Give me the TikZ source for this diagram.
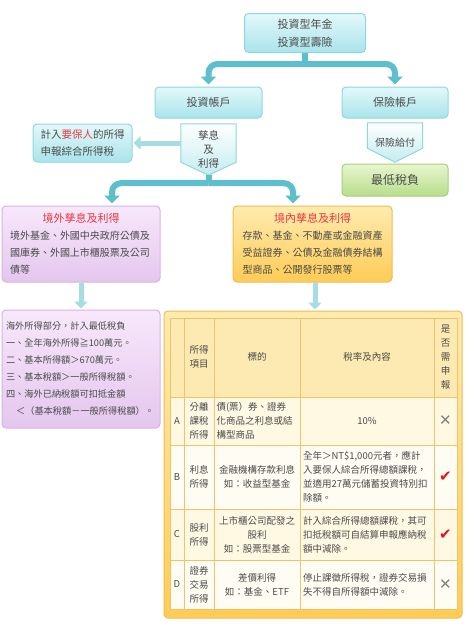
\documentclass[tikz,border=0pt]{standalone}
\usepackage{fontspec}
\setmainfont{Noto Sans CJK TC}
\newfontfamily\symfont{DejaVu Sans}
\usetikzlibrary{arrows.meta,calc,backgrounds}

\definecolor{cyantop}{HTML}{E3F8FA}
\definecolor{cyanbot}{HTML}{A9E4EA}
\definecolor{cyanedge}{HTML}{8ED7DF}
\definecolor{barcyan}{HTML}{5DBFCD}
\definecolor{purptop}{HTML}{F8E8FB}
\definecolor{purpbot}{HTML}{E4C6EE}
\definecolor{purpedge}{HTML}{D7B3E3}
\definecolor{orantop}{HTML}{FFEBB0}
\definecolor{oranbot}{HTML}{FFCC55}
\definecolor{oranedge}{HTML}{F2BC4E}
\definecolor{greentop}{HTML}{E8F6CF}
\definecolor{greenbot}{HTML}{B7DD8A}
\definecolor{greenedge}{HTML}{A6D07A}
\definecolor{titlered}{HTML}{E8383D}
\definecolor{textgray}{HTML}{4A4A4A}
\definecolor{gridline}{HTML}{F0C36A}
\definecolor{headfill}{HTML}{FDEAB2}
\definecolor{rowfill}{HTML}{FFF8E3}
\definecolor{rowfillb}{HTML}{FFFCF3}
\definecolor{markgray}{HTML}{808080}
\definecolor{markred}{HTML}{E0141E}

\tikzset{
  cyanbox/.style={draw=cyanedge, line width=1pt, rounded corners=4pt, top color=cyantop, bottom color=cyanbot,
    text=textgray, font=\fontsize{11}{18}\selectfont, align=center, inner sep=2pt},
  purpbox/.style={draw=purpedge, line width=1pt, rounded corners=4pt, top color=purptop, bottom color=purpbot,
    text=textgray, align=left, inner sep=0pt},
  oranbox/.style={draw=oranedge, line width=1pt, rounded corners=4pt, top color=orantop, bottom color=oranbot,
    text=textgray, align=left, inner sep=0pt},
  greenbox/.style={draw=greenedge, line width=1pt, rounded corners=4pt, top color=greentop, bottom color=greenbot,
    text=textgray, font=\fontsize{12}{18}\selectfont},
  tagbox/.style={text=textgray, align=center, inner sep=0pt},
  pentagon/.style={draw=cyanedge, line width=1pt, top color=white, bottom color=cyanbot!70},
  stem/.style={draw=barcyan, line width=6pt},
  bar/.style={draw=barcyan, line width=6pt, rounded corners=9pt, -{Triangle[width=15pt,length=8pt]}, shorten >=2pt},
  softbar/.style={draw=barcyan!55, line width=5pt, -{Triangle[width=13pt,length=7pt]}, shorten >=1pt},
  grid/.style={draw=gridline, line width=0.8pt},
  cell/.style={font=\fontsize{9.5}{14}\selectfont, text=textgray, align=center, inner sep=0pt},
  filemark/.style={font=\symfont\fontsize{15}{15}\selectfont, inner sep=0pt},
}

\begin{document}
\begin{tikzpicture}[x=1pt,y=-1pt]
  \useasboundingbox (0,0) rectangle (474,632);

  % upper part
  \node[cyanbox, minimum width=121pt, minimum height=39pt] (prod) at (305,33) {投資型年金\\投資型壽險};
  \node[cyanbox, minimum width=107pt, minimum height=31pt] (inv) at (208.5,102.5) {投資帳戶};
  \node[cyanbox, minimum width=106pt, minimum height=31pt] (ins) at (395,102.5) {保險帳戶};
  \coordinate (tee) at ($(prod.south)+(0,11)$);
  \draw[stem] (prod.south) -- (tee);
  \draw[bar] (tee) -| (inv.north);
  \draw[bar] (tee) -| (ins.north);

  % interest and gains, insurance payout
  \node[tagbox, font=\fontsize{10.5}{14}\selectfont, minimum width=55pt, minimum height=51pt] (gain) at (208.5,149.5) {孳息\\及\\利得};
  \node[tagbox, font=\fontsize{10}{14}\selectfont, minimum width=55pt, minimum height=39pt] (pay) at (395,142.5) {保險給付};
  \begin{scope}[on background layer]
    \draw[pentagon] (gain.north west) -- (gain.north east) -- ($(gain.south east)+(0,-13)$) -- (gain.south)
      -- ($(gain.south west)+(0,-13)$) -- cycle;
    \draw[pentagon] (pay.north west) -- (pay.north east) -- ($(pay.south east)+(0,-14)$) -- (pay.south)
      -- ($(pay.south west)+(0,-14)$) -- cycle;
  \end{scope}
  \node[cyanbox, font=\fontsize{10.5}{17}\selectfont, align=left, minimum width=99pt, minimum height=38pt] (tax) at (82.5,143)
    {計入\textcolor{titlered}{要保人}的所得\\申報綜合所得稅};
  \draw[softbar] (gain.west |- tax.east) -- (tax.east);
  \node[greenbox, minimum width=106pt, minimum height=32pt] (minb) at (395,180) {最低稅負};

  % foreign and domestic
  \node[purpbox, minimum width=158pt, minimum height=76pt, text width=142pt, font=\fontsize{10}{17}\selectfont] (foreign) at (81,244)
    {\makebox[142pt][c]{\fontsize{11}{17}\selectfont\textcolor{titlered}{境外孳息及利得}}\\
     境外基金、外國中央政府公債及\\國庫券、外國上市櫃股票及公司\\債等};
  \node[oranbox, minimum width=159pt, minimum height=76pt, text width=140pt, font=\fontsize{10}{17}\selectfont] (domestic) at (312.5,244)
    {\makebox[140pt][c]{\fontsize{11}{17}\selectfont\textcolor{titlered}{境內孳息及利得}}\\
     存款、基金、不動產或金融資產\\受益證券、公債及金融債券結構\\型商品、公開發行股票等};
  \coordinate (gtip) at (gain.south);
  \coordinate (tee2) at ($(gtip)+(0,8)$);
  \draw[stem] (gtip) -- (tee2);
  \draw[bar] (tee2) -| ($(foreign.north)+(31,0)$);
  \draw[bar] (tee2) -| ($(domestic.north)+(-19.5,0)$);

  % lower part
  \node[purpbox, minimum width=158pt, minimum height=118pt, text width=150pt, font=\fontsize{9.2}{17}\selectfont] (notes) at (81,369)
    {海外所得部分，計入最低稅負\\一、全年海外所得≧100萬元。\\二、基本所得額＞670萬元。\\三、基本稅額＞一般所得稅額。\\
     四、海外已納稅額可扣抵金額\\\hspace*{1.1em}＜（基本稅額－一般所得稅額）。};
  \node[oranbox, minimum width=298pt, minimum height=307pt] (tblbox) at (313,464.5) {};
  \draw[softbar] (foreign.south) -- (notes.north);
  \coordinate (dbase) at ($(domestic.south)+(2.5,0)$);
  \draw[softbar] (dbase) -- (dbase |- tblbox.north);

  % table
  \fill[headfill] (170,318) rectangle (457,397);
  \fill[rowfill] (170,397) rectangle (457,445);
  \fill[rowfillb] (170,445) rectangle (457,509);
  \fill[rowfill] (170,509) rectangle (457,560);
  \fill[rowfillb] (170,560) rectangle (457,609);
  \foreach \x in {170,184,214,300,434,457}
    \draw[grid] (\x,318) -- (\x,609);
  \foreach \y in {318,397,445,509,560,609}
    \draw[grid] (170,\y) -- (457,\y);

  \node[cell] (h-item) at (199,357) {所得\\項目};
  \node[cell] (h-target) at (257,357) {標的};
  \node[cell] (h-rate) at (367,357) {稅率及內容};
  \node[cell] (h-file) at (445.5,357) {是\\否\\需\\申\\報};

  \node[cell] (a-id) at (177,421) {A};
  \node[cell] (a-item) at (199,421) {分離\\課稅\\所得};
  \node[cell, align=left, text width=82pt] (a-target) at (257.5,421) {債(票）券、證券\\化商品之利息或結\\構型商品};
  \node[cell] (a-rate) at (367,421) {10\%};
  \node[filemark, text=markgray] (a-file) at (445.5,421) {✕};

  \node[cell] (b-id) at (177,477) {B};
  \node[cell] (b-item) at (199,477) {利息\\所得};
  \node[cell] (b-target) at (257,477) {金融機構存款利息\\如：收益型基金};
  \node[cell, align=left, text width=128pt] (b-rate) at (367,477)
    {全年＞NT\$1,000元者，應計\\入要保人綜合所得總額課稅，\\並適用27萬元儲蓄投資特別扣\\除額。};
  \node[filemark, text=markred] (b-file) at (445.5,477) {✔};

  \node[cell] (c-id) at (177,534.5) {C};
  \node[cell] (c-item) at (199,534.5) {股利\\所得};
  \node[cell] (c-target) at (257,534.5) {上市櫃公司配發之\\股利\\如：股票型基金};
  \node[cell, align=left, text width=128pt] (c-rate) at (367,534.5)
    {計入綜合所得總額課稅，其可\\扣抵稅額可自結算申報應納稅\\額中減除。};
  \node[filemark, text=markred] (c-file) at (445.5,534.5) {✔};

  \node[cell] (d-id) at (177,584.5) {D};
  \node[cell] (d-item) at (199,584.5) {證券\\交易\\所得};
  \node[cell] (d-target) at (257,584.5) {差價利得\\如：基金、ETF};
  \node[cell, align=left, text width=128pt] (d-rate) at (367,584.5)
    {停止課徵所得稅，證券交易損\\失不得自所得額中減除。};
  \node[filemark, text=markgray] (d-file) at (445.5,584.5) {✕};
\end{tikzpicture}
\end{document}
